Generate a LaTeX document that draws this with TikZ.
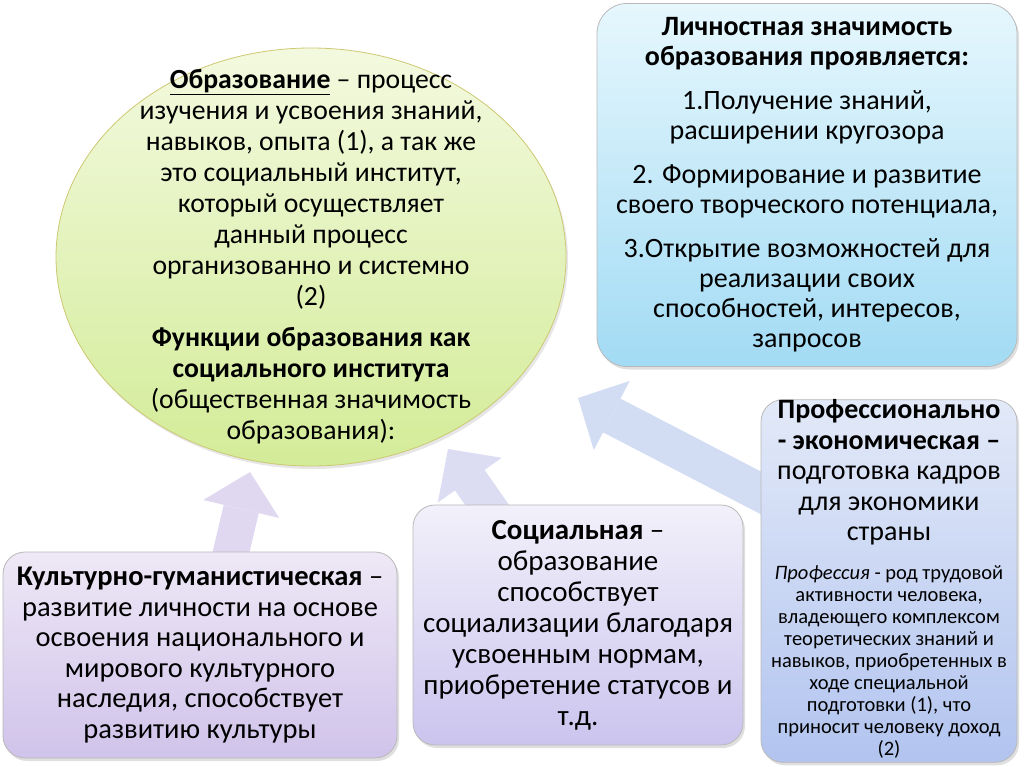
\documentclass[tikz,border=0pt]{standalone}
\usepackage{fontspec}
\setmainfont{Carlito}
\usepackage{tikz}
\usetikzlibrary{arrows.meta,shadows,backgrounds,shapes.geometric}

\definecolor{ovaltop}{HTML}{F3F9DF}
\definecolor{ovalbot}{HTML}{D3EC98}
\definecolor{perstop}{HTML}{E6F7FD}
\definecolor{persbot}{HTML}{A2DBF4}
\definecolor{proftop}{HTML}{E2E9F8}
\definecolor{profbot}{HTML}{B2C4EF}
\definecolor{soctop}{HTML}{F2F0FA}
\definecolor{socbot}{HTML}{CBC4EE}
\definecolor{culttop}{HTML}{EEE8F6}
\definecolor{cultbot}{HTML}{D0C3EA}
\definecolor{arrowcult}{HTML}{E0D8F1}
\definecolor{arrowsoc}{HTML}{DCDCF3}
\definecolor{arrowprof}{HTML}{D2DDF4}

\begin{document}
\begin{tikzpicture}[x=1pt,y=-1pt,
  box/.style={draw=gray!55, line width=0.8pt, rounded corners=22pt, align=center,
    inner sep=2pt, font=\fontsize{28.5}{30.5}\selectfont,
    drop shadow={opacity=0.25, shadow xshift=2pt, shadow yshift=-3pt}},
  fat/.style={line width=36pt, -{Triangle[width=78pt,length=38pt,line width=0pt]}}]
\useasboundingbox (0,0) rectangle (1024,767);

% central oval
\node[ellipse, draw=olive!45, line width=0.8pt, top color=ovaltop, bottom color=ovalbot,
  minimum width=510pt, minimum height=418pt, inner sep=0pt,
  drop shadow={opacity=0.2, shadow xshift=2pt, shadow yshift=-3pt}] (edu) at (311,257) {};
\node[align=center, font=\fontsize{27.7}{31}\selectfont] (edutext) at (311,257) {%
\underline{\textbf{Образование}} -- процесс\\
изучения и усвоения знаний,\\
навыков, опыта (1), а так же\\
это социальный институт,\\
который осуществляет\\
данный процесс\\
организованно и системно\\
(2)\\[10pt]
\textbf{Функции образования как}\\
\textbf{социального института}\\
(общественная значимость\\
образования):};

% personal value
\node[box, rounded corners=30pt, top color=perstop, bottom color=persbot,
  font=\fontsize{28}{30}\selectfont,
  minimum width=420pt, minimum height=363pt] (pers) at (807,185) {%
\textbf{Личностная значимость}\\
\textbf{образования проявляется:}\\[14pt]
1.Получение знаний,\\
расширении кругозора\\[14pt]
2. Формирование и развитие\\
своего творческого потенциала,\\[14pt]
3.Открытие возможностей для\\
реализации своих\\
способностей, интересов,\\
запросов};

% functions
\node[box, top color=proftop, bottom color=profbot, inner sep=0pt,
  font=\fontsize{28}{30.5}\selectfont,
  minimum width=256pt, minimum height=362pt] (prof) at (889,581) {%
\textbf{Профессионально}\\
\textbf{- экономическая –}\\
подготовка кадров\\
для экономики\\
страны\\[18pt]
\fontsize{20.5}{22}\selectfont\begin{tabular}{@{}c@{}}
\textit{Профессия} - род трудовой\\
активности человека,\\
владеющего комплексом\\
теоретических знаний и\\
навыков, приобретенных в\\
ходе специальной\\
подготовки (1), что\\
приносит человеку доход\\
(2)\end{tabular}};

\node[box, top color=soctop, bottom color=socbot,
  font=\fontsize{29}{31}\selectfont,
  minimum width=330pt, minimum height=240pt] (soc) at (578,625) {%
\textbf{Социальная} –\\
образование\\
способствует\\
социализации благодаря\\
усвоенным нормам,\\
приобретение статусов и\\
т.д.};

\node[box, top color=culttop, bottom color=cultbot,
  minimum width=394pt, minimum height=206pt] (cult) at (200,655) {%
\textbf{Культурно-гуманистическая} –\\
развитие личности на основе\\
освоения национального и\\
мирового культурного\\
наследия, способствует\\
развитию культуры};

% arrows to the oval
\coordinate (culttail) at (223,586);
\coordinate (culttip) at (250,472);
\coordinate (soctail) at (506,532);
\coordinate (soctip) at (448,449);
\coordinate (proftail) at (790,508);
\coordinate (proftip) at (578,398);

\begin{scope}[on background layer]
\draw[fat, draw=arrowcult, fill=arrowcult] (culttail) -- (culttip);
\draw[fat, draw=arrowsoc, fill=arrowsoc] (soctail) -- (soctip);
\draw[fat, draw=arrowprof, fill=arrowprof, line width=38pt] (proftail) -- (proftip);
\end{scope}

\end{tikzpicture}
\end{document}
